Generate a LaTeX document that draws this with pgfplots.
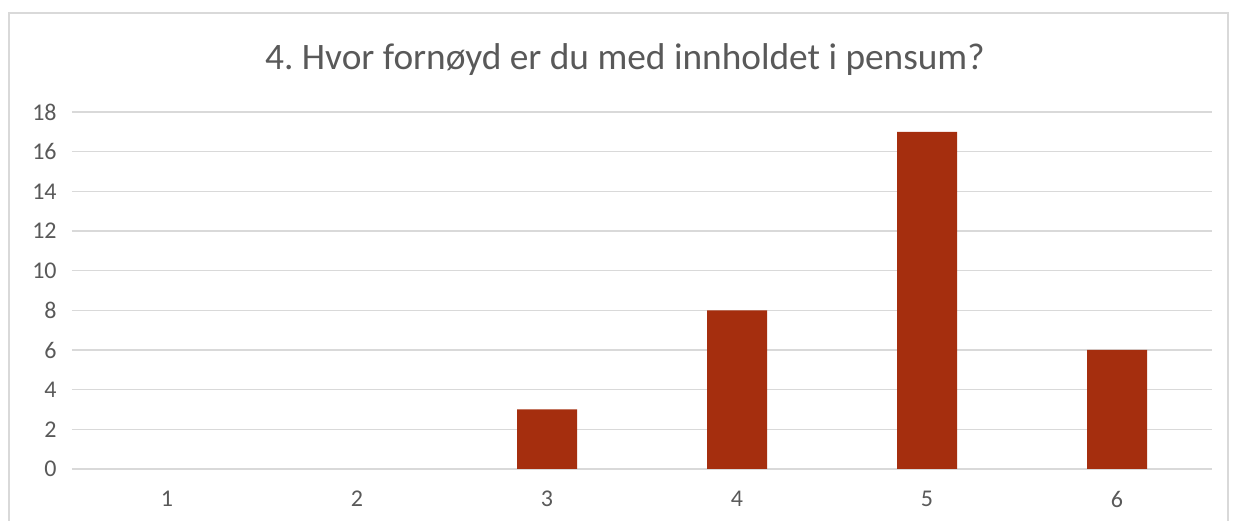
\documentclass[border=0pt]{standalone}
\usepackage{fontspec}
\setmainfont{Carlito}
\usepackage{pgfplots}
\pgfplotsset{compat=1.18}
\definecolor{barred}{RGB}{165,46,14}
\definecolor{txtgray}{RGB}{89,89,89}
\definecolor{gridgray}{RGB}{217,217,217}
\frenchspacing
\begin{document}
\begin{tikzpicture}[x=0.75pt,y=0.75pt]
\useasboundingbox (0,0) rectangle (1239,521);
\draw[gridgray,line width=1.5pt] (9,-20) -- (9,508) -- (1228,508) -- (1228,-20);
\node[txtgray,font=\fontsize{28}{34}\selectfont] at (625,461) {4. Hvor fornøyd er du med innholdet i pensum?};
\begin{axis}[
  at={(54pt,39pt)}, anchor=south west,
  scale only axis, width=855pt, height=267.75pt,
  xmin=0.5, xmax=6.5, ymin=0, ymax=18,
  ytick={0,2,...,18}, xtick={1,2,3,4,5,6},
  axis line style={draw=none},
  tick style={draw=none},
  ymajorgrids, grid style={gridgray,line width=1.2pt},
  ticklabel style={txtgray,font=\fontsize{18}{22}\selectfont},
  /pgf/number format/assume math mode=true,
  yticklabel style={xshift=-8pt},
  xticklabel style={yshift=-9pt},
  ybar, bar width=45pt,
]
\addplot[fill=barred,draw=none,y filter/.expression={y==0 ? nan : y}] coordinates {(1,0) (2,0) (3,3) (4,8) (5,17) (6,6)};
\end{axis}
\end{tikzpicture}
\end{document}
